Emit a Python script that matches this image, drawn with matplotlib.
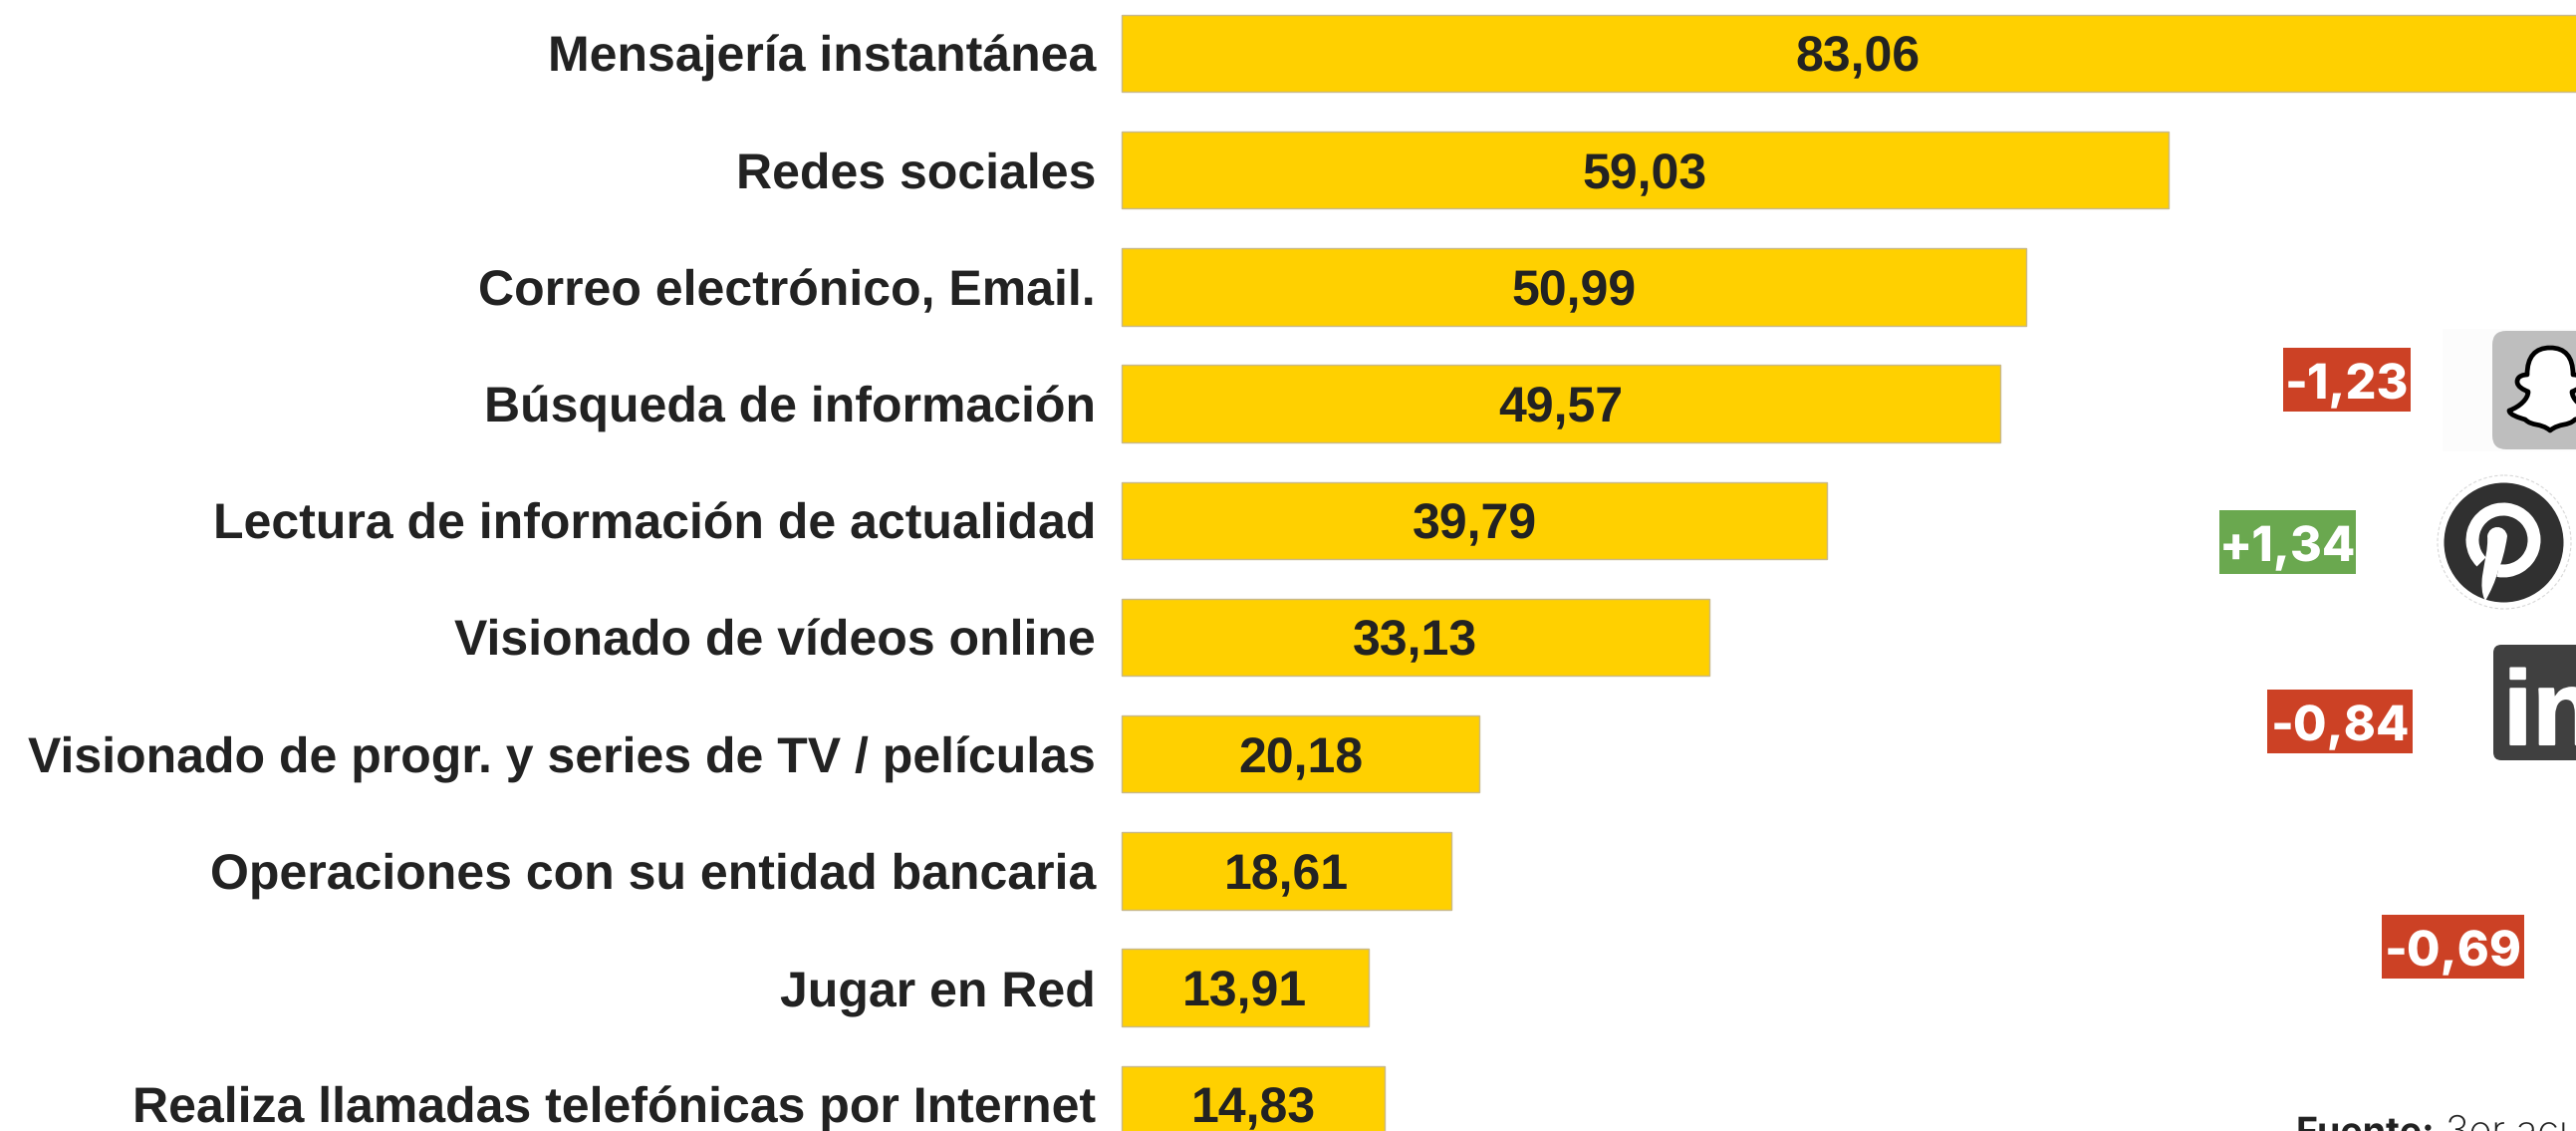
"""Uso de internet: barras horizontales, etiquetas de variación e iconos recortados."""

import matplotlib

matplotlib.use("Agg")
import matplotlib.patheffects as pe
import matplotlib.pyplot as plt
from matplotlib.patches import Circle, FancyBboxPatch, PathPatch, Rectangle, Wedge
from matplotlib.path import Path

plt.rcParams["text.hinting"] = "no_hinting"

W, H = 2586, 1135

CATEGORIES = [
    "Mensajería instantánea",
    "Redes sociales",
    "Correo electrónico, Email.",
    "Búsqueda de información",
    "Lectura de información de actualidad",
    "Visionado de vídeos online",
    "Visionado de progr. y series de TV / películas",
    "Operaciones con su entidad bancaria",
    "Jugar en Red",
    "Realiza llamadas telefónicas por Internet",
]
VALUES = [83.06, 59.03, 50.99, 49.57, 39.79, 33.13, 20.18, 18.61, 13.91, 14.83]
VALUE_LABELS = ["83,06", "59,03", "50,99", "49,57", "39,79", "33,13", "20,18", "18,61", "13,91", "14,83"]

BADGE_LABELS = ["-1,23", "+1,34", "-0,84", "-0,69"]
BADGE_KINDS = ["down", "up", "down", "down"]

PX_PER_UNIT = 17.8
BAR_X0 = 1126
ROW_0 = 53.5
ROW_STEP = 117.2

# left, right, top, bottom in pixels
badge_boxes = [(2292, 2420, 349, 413), (2228, 2365, 512, 576), (2276, 2422, 692, 756), (2391, 2534, 918, 982)]
badge_colors = {"down": "#CC4125", "up": "#6AA84F"}

fig = plt.figure(figsize=(W / 100, H / 100), dpi=100, facecolor="white")
ax = fig.add_axes([0, 0, 1, 1])
ax.set_xlim(-BAR_X0 / PX_PER_UNIT, (W - BAR_X0) / PX_PER_UNIT)
ax.set_ylim((H - ROW_0) / ROW_STEP, -ROW_0 / ROW_STEP)
ax.axis("off")

ax.barh(range(len(VALUES)), VALUES, height=0.66, color="#FFD000", edgecolor="#C9B98A", linewidth=1.0)
for i, (cat, val, lab) in enumerate(zip(CATEGORIES, VALUES, VALUE_LABELS)):
    ax.annotate(cat, (0, i), xytext=(-26 * 0.72, 0), textcoords="offset points", ha="right", va="center_baseline",
                family="Liberation Sans", weight="bold", fontsize=36, color="#222222")
    ax.text(val / 2, i, lab, ha="center", va="center_baseline", family="Liberation Sans", weight="bold",
            fontsize=36, color="#222222")

# overlay in pixel coordinates, y going down
ov = fig.add_axes([0, 0, 1, 1], facecolor="none")
ov.set_xlim(0, W)
ov.set_ylim(H, 0)
ov.axis("off")

for (x0, x1, y0, y1), lab, kind in zip(badge_boxes, BADGE_LABELS, BADGE_KINDS):
    ov.add_patch(Rectangle((x0, y0), x1 - x0, y1 - y0, color=badge_colors[kind], lw=0))
    ov.text((x0 + x1) / 2, (y0 + y1) / 2 + 1, lab, ha="center", va="center_baseline",
            family="Inter", weight="heavy", fontsize=35, color="white")

# snapchat
ov.add_patch(Rectangle((2452, 330), 134, 123, color="#FCFCFC", lw=0))
ov.add_patch(FancyBboxPatch((2514, 344), 90, 95, boxstyle="round,pad=12,rounding_size=14", fc="#BEBEBE", ec="none"))
left_half = [
    (2560, 349),
    (2545, 349), (2537, 358), (2537, 376),
    (2534, 376), (2527, 377), (2527, 383),
    (2527, 388), (2533, 391), (2538, 393),
    (2538, 400), (2530, 408), (2519, 412),
    (2519, 416), (2528, 419), (2535, 421),
    (2542, 428), (2550, 424), (2560, 432),
]
right_half = [(2 * 2560 - x, y) for x, y in reversed(left_half[:-1])]
ghost = left_half + right_half
ghost_codes = [Path.MOVETO] + [Path.CURVE4] * (len(ghost) - 1)
ov.add_patch(PathPatch(Path(ghost, ghost_codes), fc="white", ec="black", lw=3.4, joinstyle="round"))

# pinterest
ov.add_patch(Circle((2514, 544), 67, fc="white", ec="#D8D8D8", lw=0.8, ls=(0, (3, 2))))
ov.add_patch(Circle((2513.5, 544.5), 60, fc="#303030", ec="none"))
ov.add_patch(Wedge((2513, 542), 37.5, 135, 460, width=13, fc="white", ec="none"))
stem = [
    (2497, 538),
    (2499, 526), (2515, 526), (2517, 538),
    (2515, 552), (2511, 566), (2508, 572),
    (2505, 584), (2500, 594), (2495, 603),
    (2491, 596), (2491, 586), (2492, 578),
    (2494, 564), (2498, 550), (2497, 538),
]
ov.add_patch(PathPatch(Path(stem, [Path.MOVETO] + [Path.CURVE4] * 15), fc="white", ec="none"))

# linkedin
ov.add_patch(FancyBboxPatch((2509, 653), 100, 104, boxstyle="round,pad=6,rounding_size=8", fc="#404040", ec="none"))
ov.text(2513, 747, "in", ha="left", va="baseline", family="Liberation Sans", weight="bold", fontsize=76, color="white",
        path_effects=[pe.withStroke(linewidth=1.5, foreground="white")])

# fuente, cut by the lower edge of the picture
ov.text(2305, 1147.5, "Fuente:", ha="left", va="baseline", family="Inter", weight="bold", fontsize=27, color="#222222")
ov.text(2455, 1147.5, "3er acu", ha="left", va="baseline", family="Inter", weight="light", fontsize=28.5, color="#222222")

fig.savefig("out.png", dpi=100)
